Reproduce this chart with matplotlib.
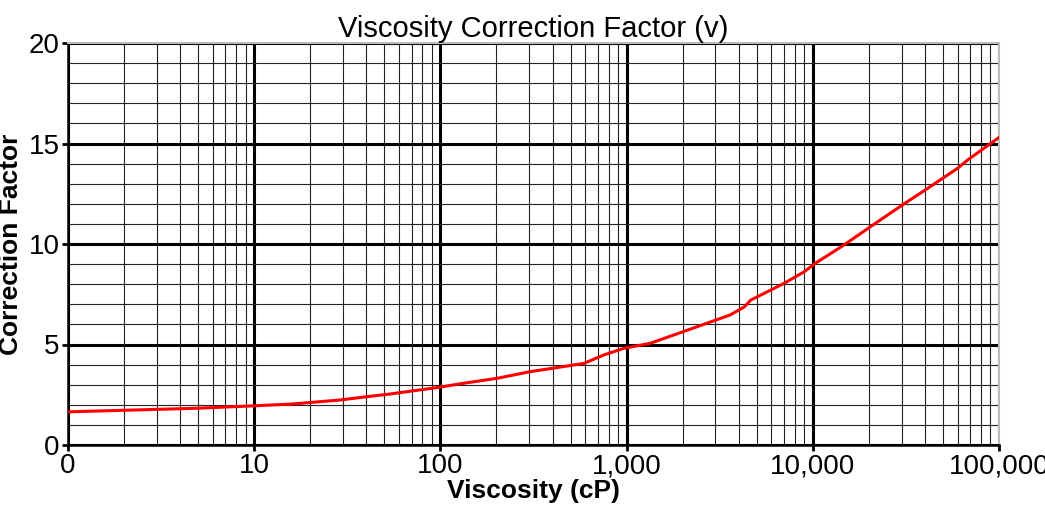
import matplotlib.pyplot as plt
from matplotlib.ticker import FixedLocator, FuncFormatter, LogLocator, MultipleLocator, NullFormatter

plt.rcParams['font.family'] = ['Liberation Sans', 'DejaVu Sans']

# Values
viscosity = [1, 5, 9.5, 16, 29, 40, 54, 98, 133, 202, 304, 457, 590, 755, 967,
             1340, 2400, 3600, 4300, 4640, 7000, 9000, 10160, 14700, 20400,
             29700, 39600, 60000, 67900, 100000]
factor = [1.65, 1.83, 1.94, 2.04, 2.24, 2.40, 2.54, 2.87, 3.07, 3.32, 3.65, 3.90,
          4.06, 4.48, 4.81, 5.06, 5.89, 6.47, 6.88, 7.21, 8.04, 8.62, 9.0, 9.95,
          10.86, 11.89, 12.65, 13.77, 14.18, 15.3]

x_major = [1, 10, 100, 1000, 10000, 100000]

fig = plt.figure(figsize=(10.45, 5.08), dpi=100)
ax = fig.add_axes([68 / 1045, 1 - 445 / 508, (999 - 68) / 1045, (445 - 43) / 508])

ax.plot(viscosity, factor, color='#ff0000', linewidth=2.2, zorder=5)

ax.set_xscale('log')
ax.set_xlim(1, 100000)
ax.set_ylim(0, 20)

ax.xaxis.set_major_locator(FixedLocator(x_major))
ax.xaxis.set_major_formatter(FuncFormatter(lambda v, p: '0' if v == 1 else f'{int(round(v)):,}'))
ax.xaxis.set_minor_locator(LogLocator(base=10, subs=range(2, 10), numticks=20))
ax.xaxis.set_minor_formatter(NullFormatter())
ax.yaxis.set_major_locator(MultipleLocator(5))
ax.yaxis.set_minor_locator(MultipleLocator(1))

ax.grid(which='major', color='black', linewidth=2.2)
ax.grid(which='minor', color='#222222', linewidth=0.8)

ax.tick_params(which='major', length=4, width=2, labelsize=20, direction='out', pad=2)
ax.tick_params(which='minor', length=0)

for side in ['left', 'bottom']:
    ax.spines[side].set_linewidth(1.8)
for side in ['top', 'right']:
    ax.spines[side].set_color('#bbbbbb')
    ax.spines[side].set_linewidth(1.5)

ax.set_title('Viscosity Correction Factor (v)', fontsize=21, pad=3)
ax.set_xlabel('Viscosity (cP)', fontsize=19, fontweight='bold', labelpad=0)
ax.set_ylabel('Correction Factor', fontsize=19, fontweight='bold', labelpad=4)

fig.savefig('out.png', dpi=100)
